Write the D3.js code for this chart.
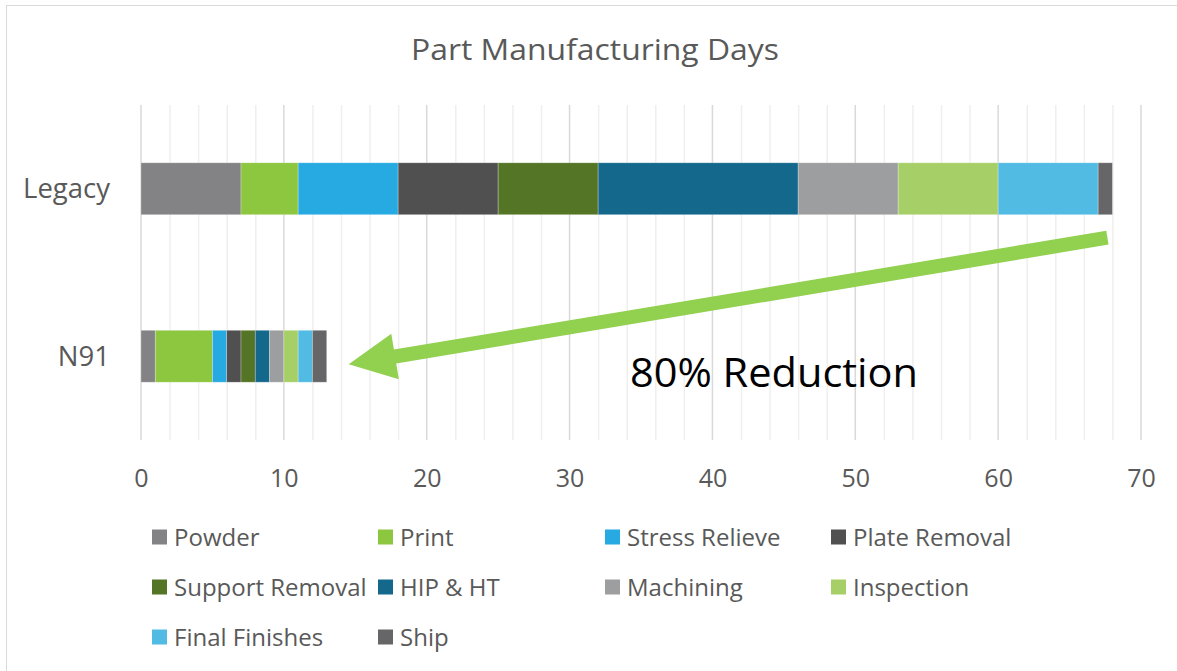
<!DOCTYPE html>
<html><head><meta charset="utf-8">
<script src="https://cdn.jsdelivr.net/npm/d3@7"></script>
<style>
html,body{margin:0;padding:0;background:#fff;}
svg{display:block;font-family:"Open Sans",sans-serif;}
</style></head>
<body>
<svg id="chart" width="1177" height="671"></svg>
<script>
const categories = ["Legacy", "N91"];
const seriesNames = ["Powder","Print","Stress Relieve","Plate Removal","Support Removal","HIP & HT","Machining","Inspection","Final Finishes","Ship"];
const legacyValues = [7, 4, 7, 7, 7, 14, 7, 7, 7, 1];
const n91Values = [1, 4, 1, 1, 1, 1, 1, 1, 1, 1];
const seriesColors = ["#838385","#8DC63F","#27AAE1","#505050","#557526","#13688C","#9D9E9F","#A6D067","#52BBE4","#666668"];
const xTicks = [0,10,20,30,40,50,60,70];
const title = "Part Manufacturing Days";
const annotation = "80% Reduction";

const svg = d3.select("#chart");
const W = 1177, H = 671;
const plot = {left:141, right:1141, top:105, bottom:440};

// outer frame
svg.append("rect").attr("x",6.5).attr("y",5.5).attr("width",W+10).attr("height",H+10)
  .attr("fill","#fff").attr("stroke","#d9d9d9").attr("stroke-width",1);

const x = d3.scaleLinear().domain([0,70]).range([plot.left, plot.right]);
const y = d3.scaleBand().domain(categories).range([plot.top, plot.bottom])
  .paddingInner(0.69).paddingOuter(0.345);

// gridlines
const minor = d3.range(0, 71, 2).filter(v => v % 10 !== 0);
svg.append("g").selectAll("line").data(minor).join("line")
  .attr("x1", d=>x(d)+0.5).attr("x2", d=>x(d)+0.5)
  .attr("y1", plot.top).attr("y2", plot.bottom)
  .attr("stroke","#efefef").attr("stroke-width",1.5);
svg.append("g").selectAll("line").data(xTicks).join("line")
  .attr("x1", d=>x(d)).attr("x2", d=>x(d))
  .attr("y1", plot.top).attr("y2", plot.bottom)
  .attr("stroke","#d9d9d9").attr("stroke-width",1.5);

// stacked data
const rows = categories.map((c,i) => {
  const vals = i===0 ? legacyValues : n91Values;
  const o = {category:c};
  seriesNames.forEach((s,j)=> o[s]=vals[j]);
  return o;
});
const stack = d3.stack().keys(seriesNames)(rows);
const color = d3.scaleOrdinal().domain(seriesNames).range(seriesColors);

svg.append("g").selectAll("g").data(stack).join("g")
  .attr("fill", d=>color(d.key))
  .selectAll("rect").data(d=>d).join("rect")
  .attr("x", d=>x(d[0])).attr("width", d=>x(d[1])-x(d[0]))
  .attr("y", d=>y(d.data.category)).attr("height", y.bandwidth())
  .attr("stroke","rgba(255,255,255,0.35)").attr("stroke-width",0.75);

// x axis labels
const xAxis = d3.axisBottom(x).tickValues(xTicks).tickSize(0).tickPadding(0);
const gx = svg.append("g").attr("transform",`translate(0,${487})`).call(xAxis);
gx.select(".domain").remove();
gx.selectAll("text").attr("font-family","'Open Sans',sans-serif").attr("font-size",25)
  .attr("fill","#595959").attr("dy",0).attr("y",0);

// y labels
const yAxis = d3.axisLeft(y).tickSize(0).tickPadding(0);
const gy = svg.append("g").attr("transform",`translate(${110},0)`).call(yAxis);
gy.select(".domain").remove();
gy.selectAll("text").attr("font-family","'Open Sans',sans-serif").attr("font-size",27.5)
  .attr("fill","#595959").attr("dy","0.35em");

// title
svg.append("text").attr("x",595).attr("y",60).attr("text-anchor","middle")
  .attr("font-size",29).attr("fill","#595959")
  .attr("textLength",368).attr("lengthAdjust","spacingAndGlyphs").text(title);

// arrow annotation
const legacyTotal = d3.sum(legacyValues), n91Total = d3.sum(n91Values);
const tail = [x(legacyTotal)-5, y("Legacy")+y.bandwidth()+23];
const tip = [x(n91Total)+22, y("N91")+y.bandwidth()/2+8];
const dx = tip[0]-tail[0], dy = tip[1]-tail[1], L = Math.hypot(dx,dy);
const u = [dx/L, dy/L], n = [-u[1], u[0]];
const headLen = 47, shaftHalf = 7, headHalf = 23;
const base = [tip[0]-u[0]*headLen, tip[1]-u[1]*headLen];
const P = (p, k) => [p[0]+n[0]*k, p[1]+n[1]*k];
const pts = [P(tail,shaftHalf), P(base,shaftHalf), P(base,headHalf), tip, P(base,-headHalf), P(base,-shaftHalf), P(tail,-shaftHalf)];
svg.append("polygon").attr("points", pts.map(p=>p.join(",")).join(" ")).attr("fill","#92D050");

svg.append("text").attr("x",630).attr("y",387).attr("font-size",40).attr("fill","#000")
  .attr("textLength",288).attr("lengthAdjust","spacingAndGlyphs").text(annotation);

// legend
const legendCols = [152, 378, 605, 831];
const legendRows = [537, 587, 637];
const lg = svg.append("g").selectAll("g").data(seriesNames).join("g")
  .attr("transform",(d,i)=>`translate(${legendCols[i%4]},${legendRows[Math.floor(i/4)]})`);
lg.append("rect").attr("x",0).attr("y",-7.5).attr("width",15).attr("height",15).attr("fill",d=>color(d));
lg.append("text").attr("x",22).attr("y",0).attr("dy","0.36em").attr("font-size",24)
  .attr("fill","#595959").text(d=>d);
</script>
</body></html>
